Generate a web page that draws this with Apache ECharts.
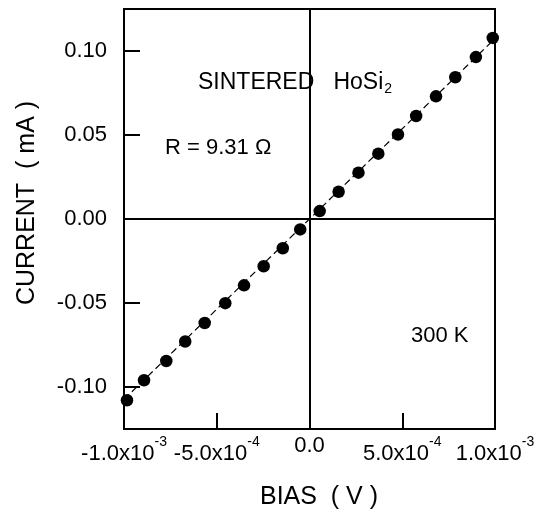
<!DOCTYPE html>
<html>
<head>
<meta charset="utf-8">
<script src="https://cdn.jsdelivr.net/npm/echarts@6/dist/echarts.min.js"></script>
<style>
html,body{margin:0;padding:0;background:#fff;}
#chart{width:538px;height:515px;}
</style>
</head>
<body>
<div id="chart"></div>
<script>
// ---- data ----
var biasV = [-0.984e-3, -0.892e-3, -0.772e-3, -0.670e-3, -0.565e-3, -0.454e-3, -0.353e-3, -0.247e-3, -0.144e-3, -0.050e-3,
             0.055e-3, 0.157e-3, 0.264e-3, 0.371e-3, 0.477e-3, 0.575e-3, 0.682e-3, 0.786e-3, 0.897e-3, 0.988e-3];
var currentMA = [-0.1079, -0.0960, -0.0845, -0.0729, -0.0619, -0.0501, -0.0395, -0.0281, -0.0174, -0.0062,
                 0.0047, 0.0162, 0.0276, 0.0389, 0.0503, 0.0613, 0.0730, 0.0844, 0.0964, 0.1078];
// linear fit (R = 9.31 ohm)
var fitBias = [-1.0e-3, 1.0e-3];
var fitCurrent = [-0.1074, 0.1074];
// tick labels
var xTickValues = [-1.0e-3, -5.0e-4, 0, 5.0e-4, 1.0e-3];
var xTickMantissa = ['-1.0x10', '-5.0x10', '0.0', '5.0x10', '1.0x10'];
var xTickExponent = ['-3', '-4', '', '-4', '-3'];
var yTickValues = [-0.10, -0.05, 0.00, 0.05, 0.10];
var yTickLabels = ['-0.10', '-0.05', '0.00', '0.05', '0.10'];

var FONT = 'Liberation Sans, Arial, Helvetica, sans-serif';

var chart = echarts.init(document.getElementById('chart'), null, {renderer: 'canvas'});

var scatterData = biasV.map(function (v, i) { return [v, currentMA[i]]; });
var fitData = fitBias.map(function (v, i) { return [v, fitCurrent[i]]; });

function xLabel(v) {
  for (var i = 0; i < xTickValues.length; i++) {
    if (Math.abs(v - xTickValues[i]) < 1e-9) {
      return xTickExponent[i] ? '{b|' + xTickMantissa[i] + '}{s|' + xTickExponent[i] + '}' : '{c|' + xTickMantissa[i] + '}';
    }
  }
  return '';
}
function yLabel(v) {
  for (var i = 0; i < yTickValues.length; i++) {
    if (Math.abs(v - yTickValues[i]) < 1e-9) return yTickLabels[i];
  }
  return '';
}

var option = {
  animation: false,
  backgroundColor: '#fff',
  grid: {left: 124, right: 43, top: 9, bottom: 86, show: true, borderColor: '#000', borderWidth: 2, containLabel: false},
  xAxis: {
    type: 'value', min: -1.0e-3, max: 1.0e-3, interval: 5.0e-4,
    axisLine: {show: true, onZero: false, lineStyle: {color: '#000', width: 2}},
    axisTick: {show: true, inside: true, length: 16, lineStyle: {color: '#000', width: 2}},
    splitLine: {show: false},
    axisLabel: {
      margin: 6, color: '#000', formatter: xLabel, hideOverlap: false,
      rich: {
        b: {fontSize: 22, fontFamily: FONT, color: '#000'},
        c: {fontSize: 22, fontFamily: FONT, color: '#000', padding: [0, 0, 24, 0]},
        s: {fontSize: 14, fontFamily: FONT, color: '#000', padding: [0, 0, 24, 0]}
      }
    }
  },
  yAxis: {
    type: 'value', min: -0.125, max: 0.125,
    axisLine: {show: true, onZero: false, lineStyle: {color: '#000', width: 2}},
    axisTick: {show: true, inside: true, length: 16, lineStyle: {color: '#000', width: 2}, customValues: yTickValues},
    splitLine: {show: false},
    axisLabel: {margin: 17, color: '#000', fontSize: 22, fontFamily: FONT, formatter: yLabel, customValues: yTickValues}
  },
  series: [
    {
      type: 'line', data: fitData, showSymbol: false, symbol: 'none',
      lineStyle: {color: '#000', width: 1.2, type: [7, 4]}, z: 2, silent: true
    },
    {
      type: 'scatter', data: scatterData, symbol: 'circle', symbolSize: 12.5,
      itemStyle: {color: '#000', opacity: 1}, z: 3, silent: true,
      markLine: {
        silent: true, symbol: 'none', label: {show: false},
        lineStyle: {color: '#000', width: 2, type: 'solid', opacity: 1},
        data: [{xAxis: 0}, {yAxis: 0}]
      }
    }
  ],
  graphic: [
    {
      type: 'text', left: 198, top: 71, silent: true,
      style: {
        text: '{m|SINTERED   HoSi}{sub|2}',
        rich: {
          m: {fontSize: 23, fontFamily: FONT, fill: '#000'},
          sub: {fontSize: 14, fontFamily: FONT, fill: '#000', padding: [14, 0, 0, 1]}
        }
      }
    },
    {type: 'text', left: 165, top: 137, silent: true, style: {text: 'R = 9.31 \u03A9', fontSize: 22, fontFamily: FONT, fill: '#000'}},
    {type: 'text', left: 411, top: 325, silent: true, style: {text: '300 K', fontSize: 22, fontFamily: FONT, fill: '#000'}},
    {type: 'text', x: 319, y: 497, silent: true, style: {text: 'BIAS  ( V )', fontSize: 25, fontFamily: FONT, fill: '#000', align: 'center', verticalAlign: 'middle'}},
    {type: 'text', x: 27, y: 203, rotation: Math.PI / 2, silent: true, style: {text: 'CURRENT  ( mA )', fontSize: 25, fontFamily: FONT, fill: '#000', align: 'center', verticalAlign: 'middle'}}
  ]
};
chart.setOption(option);
</script>
</body>
</html>
